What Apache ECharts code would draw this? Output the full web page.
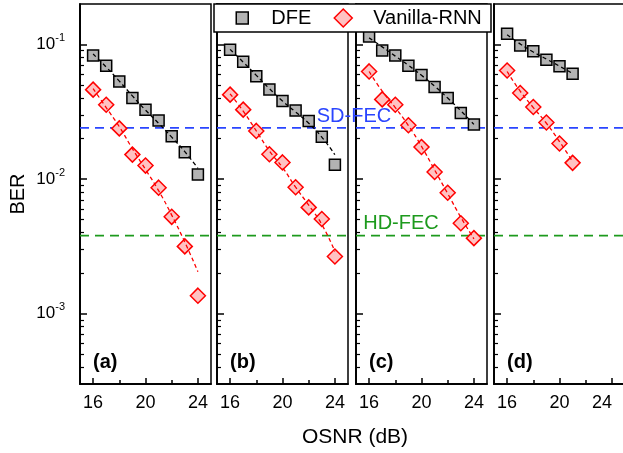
<!DOCTYPE html>
<html><head><meta charset="utf-8">
<script src="https://cdn.jsdelivr.net/npm/echarts@6/dist/echarts.min.js"></script>
<style>html,body{margin:0;padding:0;background:#fff}#c{width:623px;height:453px}</style>
</head><body><div id="c"></div>
<script>
// ---- data ----
const osnr = [16, 17, 18, 19, 20, 21, 22, 23, 24];
const osnrD = [16, 17, 18, 19, 20, 21];

const dfeA = [0.083, 0.0695, 0.0532, 0.040, 0.0328, 0.0272, 0.0208, 0.0158, 0.0108];
const rnnA = [0.0462, 0.0357, 0.0238, 0.0152, 0.0126, 0.00863, 0.00524, 0.00316, 0.00136];
const dfeB = [0.0914, 0.0744, 0.0582, 0.0464, 0.0380, 0.0323, 0.0270, 0.0206, 0.0128];
const rnnB = [0.0424, 0.0328, 0.0228, 0.0153, 0.0133, 0.00869, 0.00616, 0.00505, 0.00266];
const dfeC = [0.1146, 0.0903, 0.083, 0.0695, 0.0593, 0.0483, 0.0400, 0.0310, 0.0254];
const rnnC = [0.0631, 0.0391, 0.0357, 0.0251, 0.0173, 0.0113, 0.00792, 0.00470, 0.00364];
const dfeD = [0.120, 0.0983, 0.0892, 0.077, 0.069, 0.0607];
const rnnD = [0.0641, 0.0436, 0.0343, 0.0263, 0.0184, 0.0132];

// fitted (dashed) curves
const fitDfeA = [0.085, 0.068, 0.0535, 0.0415, 0.0325, 0.026, 0.0205, 0.016, 0.012];
const fitRnnA = [0.047, 0.034, 0.0245, 0.0168, 0.0118, 0.0082, 0.0054, 0.0034, 0.00205];
const fitDfeB = [0.092, 0.074, 0.059, 0.047, 0.038, 0.0315, 0.026, 0.0205, 0.0152];
const fitRnnB = [0.043, 0.032, 0.0228, 0.0162, 0.0122, 0.0087, 0.0064, 0.0046, 0.0029];
const fitDfeC = [0.112, 0.096, 0.082, 0.070, 0.059, 0.049, 0.040, 0.0322, 0.0255];
const fitRnnC = [0.063, 0.045, 0.034, 0.025, 0.0175, 0.0117, 0.0078, 0.0052, 0.0036];
const fitDfeD = [0.118, 0.101, 0.088, 0.078, 0.069, 0.061];
const fitRnnD = [0.063, 0.045, 0.034, 0.026, 0.019, 0.0135];

const xTickLabels = [16, 20, 24];
const xMinorTicks = [18, 22];
const xRange = [15, 25];
const yRange = [0.0003, 0.2];
const yTickLabels = [0.001, 0.01, 0.1];
const yMinorTicks = [0.0004, 0.0005, 0.0006, 0.0007, 0.0008, 0.0009,
  0.002, 0.003, 0.004, 0.005, 0.006, 0.007, 0.008, 0.009,
  0.02, 0.03, 0.04, 0.05, 0.06, 0.07, 0.08, 0.09];
const sdFec = 0.024;
const hdFec = 0.0038;
const panelNames = ['(a)', '(b)', '(c)', '(d)'];
const seriesNames = ['DFE', 'Vanilla-RNN'];

// ---- layout / style ----
const F = 'Liberation Sans, Arial, Helvetica, sans-serif';
const lefts = [80, 217, 356, 494];
const W = 131, TOP = 4, H = 380;

const panels = [
  {x: osnr, dfe: dfeA, rnn: rnnA, fd: fitDfeA, fr: fitRnnA},
  {x: osnr, dfe: dfeB, rnn: rnnB, fd: fitDfeB, fr: fitRnnB},
  {x: osnr, dfe: dfeC, rnn: rnnC, fd: fitDfeC, fr: fitRnnC},
  {x: osnrD, dfe: dfeD, rnn: rnnD, fd: fitDfeD, fr: fitRnnD}
];
const pairs = (xs, ys) => xs.map((x, k) => [x, ys[k]]);
const axLine = () => ({show: true, lineStyle: {color: '#000', width: 1.5}});

const grid = [], xAxis = [], yAxis = [], series = [], graphic = [];
panels.forEach((p, i) => {
  grid.push({left: lefts[i], top: TOP, width: W, height: H, show: true, outerBoundsMode: 'none', containLabel: false,
    borderColor: '#000', borderWidth: 1.5, backgroundColor: 'transparent'});
  const xLabel = {show: true, customValues: xTickLabels, margin: 10, fontSize: 18, color: '#000', fontFamily: F};
  if (i === 3) xLabel.alignMaxLabel = 'right';
  // major x axis (labels + long ticks)
  xAxis.push({gridIndex: i, type: 'value', min: xRange[0], max: xRange[1], position: 'bottom',
    axisLine: axLine(), splitLine: {show: false},
    axisTick: {show: true, inside: true, length: 6, customValues: xTickLabels, lineStyle: {color: '#000', width: 1.5}},
    axisLabel: xLabel});
  // minor x axis (short ticks only)
  xAxis.push({gridIndex: i, type: 'value', min: xRange[0], max: xRange[1], position: 'bottom',
    axisLine: axLine(), splitLine: {show: false},
    axisTick: {show: true, inside: true, length: 4, customValues: xMinorTicks, lineStyle: {color: '#000', width: 1.5}},
    axisLabel: {show: false}});
  // major y axis (log, labels 10^n)
  yAxis.push({gridIndex: i, type: 'log', min: yRange[0], max: yRange[1], position: 'left',
    axisLine: axLine(), splitLine: {show: false},
    axisTick: {show: true, inside: true, length: 7, customValues: yTickLabels, lineStyle: {color: '#000', width: 1.5}},
    axisLabel: {show: i === 0, customValues: yTickLabels, margin: 15,
      formatter: v => '{b|10}{s|' + Math.round(Math.log10(v)) + '}',
      rich: {
        b: {fontSize: 17, fontFamily: F, color: '#000', lineHeight: 24},
        s: {fontSize: 11, fontFamily: F, color: '#000', lineHeight: 12, verticalAlign: 'top'}
      }}});
  // minor y axis (log minor ticks)
  yAxis.push({gridIndex: i, type: 'log', min: yRange[0], max: yRange[1], position: 'left',
    axisLine: axLine(), splitLine: {show: false},
    axisTick: {show: true, inside: true, length: 4, customValues: yMinorTicks, lineStyle: {color: '#000', width: 1.2}},
    axisLabel: {show: false}});
  const xi = 2 * i, yi = 2 * i;
  series.push({
    name: 'sd-fec', type: 'line', xAxisIndex: xi, yAxisIndex: yi, z: 2, showSymbol: false, silent: true,
    lineStyle: {color: '#2a45ff', width: 1.6, type: [9, 6]},
    data: pairs(xRange, [sdFec, sdFec])
  });
  series.push({
    name: 'hd-fec', type: 'line', xAxisIndex: xi, yAxisIndex: yi, z: 2, showSymbol: false, silent: true,
    lineStyle: {color: '#1d9a1d', width: 1.6, type: [9, 6]},
    data: pairs(xRange, [hdFec, hdFec])
  });
  series.push({
    name: seriesNames[0], type: 'scatter', xAxisIndex: xi, yAxisIndex: yi, z: 3,
    symbol: 'rect', symbolSize: 11,
    itemStyle: {color: '#b3b3b3', borderColor: '#000', borderWidth: 1.5, opacity: 1},
    data: pairs(p.x, p.dfe)
  });
  series.push({
    name: seriesNames[1], type: 'scatter', xAxisIndex: xi, yAxisIndex: yi, z: 3,
    symbol: 'diamond', symbolSize: 15,
    itemStyle: {color: '#ffc2c2', borderColor: '#ff0000', borderWidth: 1.5, opacity: 1},
    data: pairs(p.x, p.rnn)
  });
  series.push({
    name: 'fit-dfe', type: 'line', xAxisIndex: xi, yAxisIndex: yi, z: 4,
    showSymbol: false, smooth: true, silent: true,
    lineStyle: {color: '#000', width: 1.3, type: [4, 3]},
    data: pairs(p.x, p.fd)
  });
  series.push({
    name: 'fit-rnn', type: 'line', xAxisIndex: xi, yAxisIndex: yi, z: 4,
    showSymbol: false, smooth: true, silent: true,
    lineStyle: {color: '#ff0000', width: 1.3, type: [4, 3]},
    data: pairs(p.x, p.fr)
  });
  graphic.push({type: 'text', x: lefts[i] + 13, y: 362, z: 50,
    style: {text: panelNames[i], fill: '#000', fontSize: 20, fontWeight: 'bold', fontFamily: F,
      textAlign: 'left', textVerticalAlign: 'middle'}});
});

graphic.push({type: 'rect', z: 100, shape: {x: 214, y: 4, width: 277, height: 28},
  style: {fill: '#fff', stroke: '#000', lineWidth: 1.5}});
graphic.push({type: 'text', x: 354, y: 116, z: 50,
  style: {text: 'SD-FEC', fill: '#2a45ff', fontSize: 20, fontFamily: F, textAlign: 'center', textVerticalAlign: 'middle'}});
graphic.push({type: 'text', x: 401, y: 223, z: 50,
  style: {text: 'HD-FEC', fill: '#1d9a1d', fontSize: 20, fontFamily: F, textAlign: 'center', textVerticalAlign: 'middle'}});
graphic.push({type: 'text', x: 18, y: 194, rotation: Math.PI / 2, z: 50,
  style: {text: 'BER', fill: '#000', fontSize: 20, fontFamily: F, textAlign: 'center', textVerticalAlign: 'middle'}});
graphic.push({type: 'text', x: 355, y: 437, z: 50,
  style: {text: 'OSNR (dB)', fill: '#000', fontSize: 21, fontFamily: F, textAlign: 'center', textVerticalAlign: 'middle'}});

const option = {
  animation: false,
  backgroundColor: '#fff',
  grid, xAxis, yAxis, series, graphic,
  legend: [
    {data: [seriesNames[0]], left: 235.5, top: 8, padding: 0, z: 110, icon: 'rect',
      itemWidth: 12, itemHeight: 12, itemStyle: {borderWidth: 1.5},
      textStyle: {fontSize: 20, fontFamily: F, color: '#000', padding: [0, 0, 0, 18]}},
    {data: [seriesNames[1]], left: 333.5, top: 8, padding: 0, z: 110, icon: 'diamond',
      itemWidth: 18, itemHeight: 18, itemStyle: {borderWidth: 1.5},
      textStyle: {fontSize: 20, fontFamily: F, color: '#000', padding: [0, 0, 0, 16]}}
  ]
};
const chart = echarts.init(document.getElementById('c'), null, {renderer: 'canvas'});
chart.setOption(option);
</script></body></html>
